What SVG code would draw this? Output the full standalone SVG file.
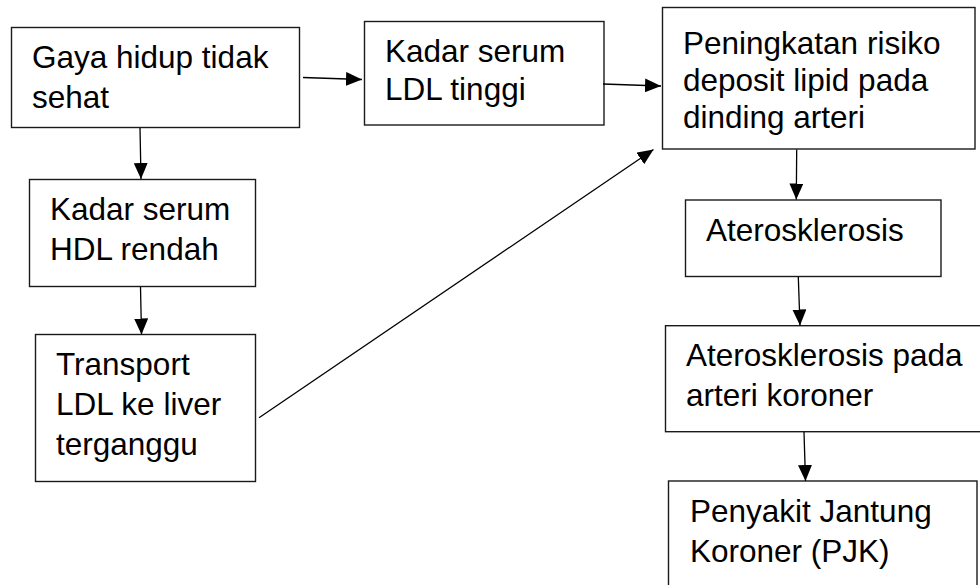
<svg xmlns="http://www.w3.org/2000/svg" width="980" height="585" viewBox="0 0 980 585">
<style>
.box{fill:#fff;stroke:#1a1a1a;stroke-width:1.4}
.t{font-family:"Liberation Sans",Arial,sans-serif;font-size:31.5px;fill:#000}
.c{stroke:#000;stroke-width:1.3;fill:none;marker-end:url(#ah)}
</style>
<defs>
<marker id="ah" viewBox="0 0 16 14" refX="16" refY="7" markerWidth="16" markerHeight="14" markerUnits="userSpaceOnUse" orient="auto">
<path d="M0,0 L16,7 L0,14 z" fill="#000"/>
</marker>
</defs>
<rect width="980" height="585" fill="#fff"/>
<g id="n1"><rect class="box" x="11.5" y="27.5" width="288" height="100"/>
<text class="t" x="32" y="68">Gaya hidup tidak</text><text class="t" x="32" y="108">sehat</text></g>
<g id="n2"><rect class="box" x="364.5" y="21.5" width="239.5" height="103.5"/>
<text class="t" x="385" y="62">Kadar serum</text><text class="t" x="385" y="100">LDL tinggi</text></g>
<g id="n3"><rect class="box" x="662.5" y="7.5" width="312.5" height="141.5"/>
<text class="t" x="683" y="54">Peningkatan risiko</text><text class="t" x="683" y="91">deposit lipid pada</text><text class="t" x="683" y="128">dinding arteri</text></g>
<g id="n4"><rect class="box" x="29.5" y="179.5" width="226" height="107"/>
<text class="t" x="50" y="220">Kadar serum</text><text class="t" x="50" y="260">HDL rendah</text></g>
<g id="n5"><rect class="box" x="35.5" y="334.5" width="220" height="147"/>
<text class="t" x="56" y="375">Transport</text><text class="t" x="56" y="415">LDL ke liver</text><text class="t" x="56" y="455">terganggu</text></g>
<g id="n6"><rect class="box" x="685.5" y="200" width="255.5" height="76.5"/>
<text class="t" x="706" y="241">Aterosklerosis</text></g>
<g id="n7"><rect class="box" x="665.5" y="325.7" width="320" height="106"/>
<text class="t" x="686" y="366">Aterosklerosis pada</text><text class="t" x="686" y="406">arteri koroner</text></g>
<g id="n8"><rect class="box" x="668.5" y="481" width="308.5" height="120"/>
<text class="t" x="690" y="521.5">Penyakit Jantung</text><text class="t" x="690" y="561.5">Koroner (PJK)</text></g>
<g id="connectors">
<line class="c" x1="303" y1="77.5" x2="362" y2="79.5"/>
<line class="c" x1="603" y1="84" x2="661" y2="86"/>
<line class="c" x1="140" y1="128" x2="141" y2="179"/>
<line class="c" x1="140.5" y1="287" x2="141.5" y2="334.5"/>
<line class="c" x1="259" y1="417.7" x2="653.5" y2="149.5"/>
<line class="c" x1="796.7" y1="149.5" x2="796.3" y2="199.5"/>
<line class="c" x1="798.3" y1="277" x2="800" y2="325.5"/>
<line class="c" x1="804" y1="432" x2="805.5" y2="481"/>
</g>
</svg>
